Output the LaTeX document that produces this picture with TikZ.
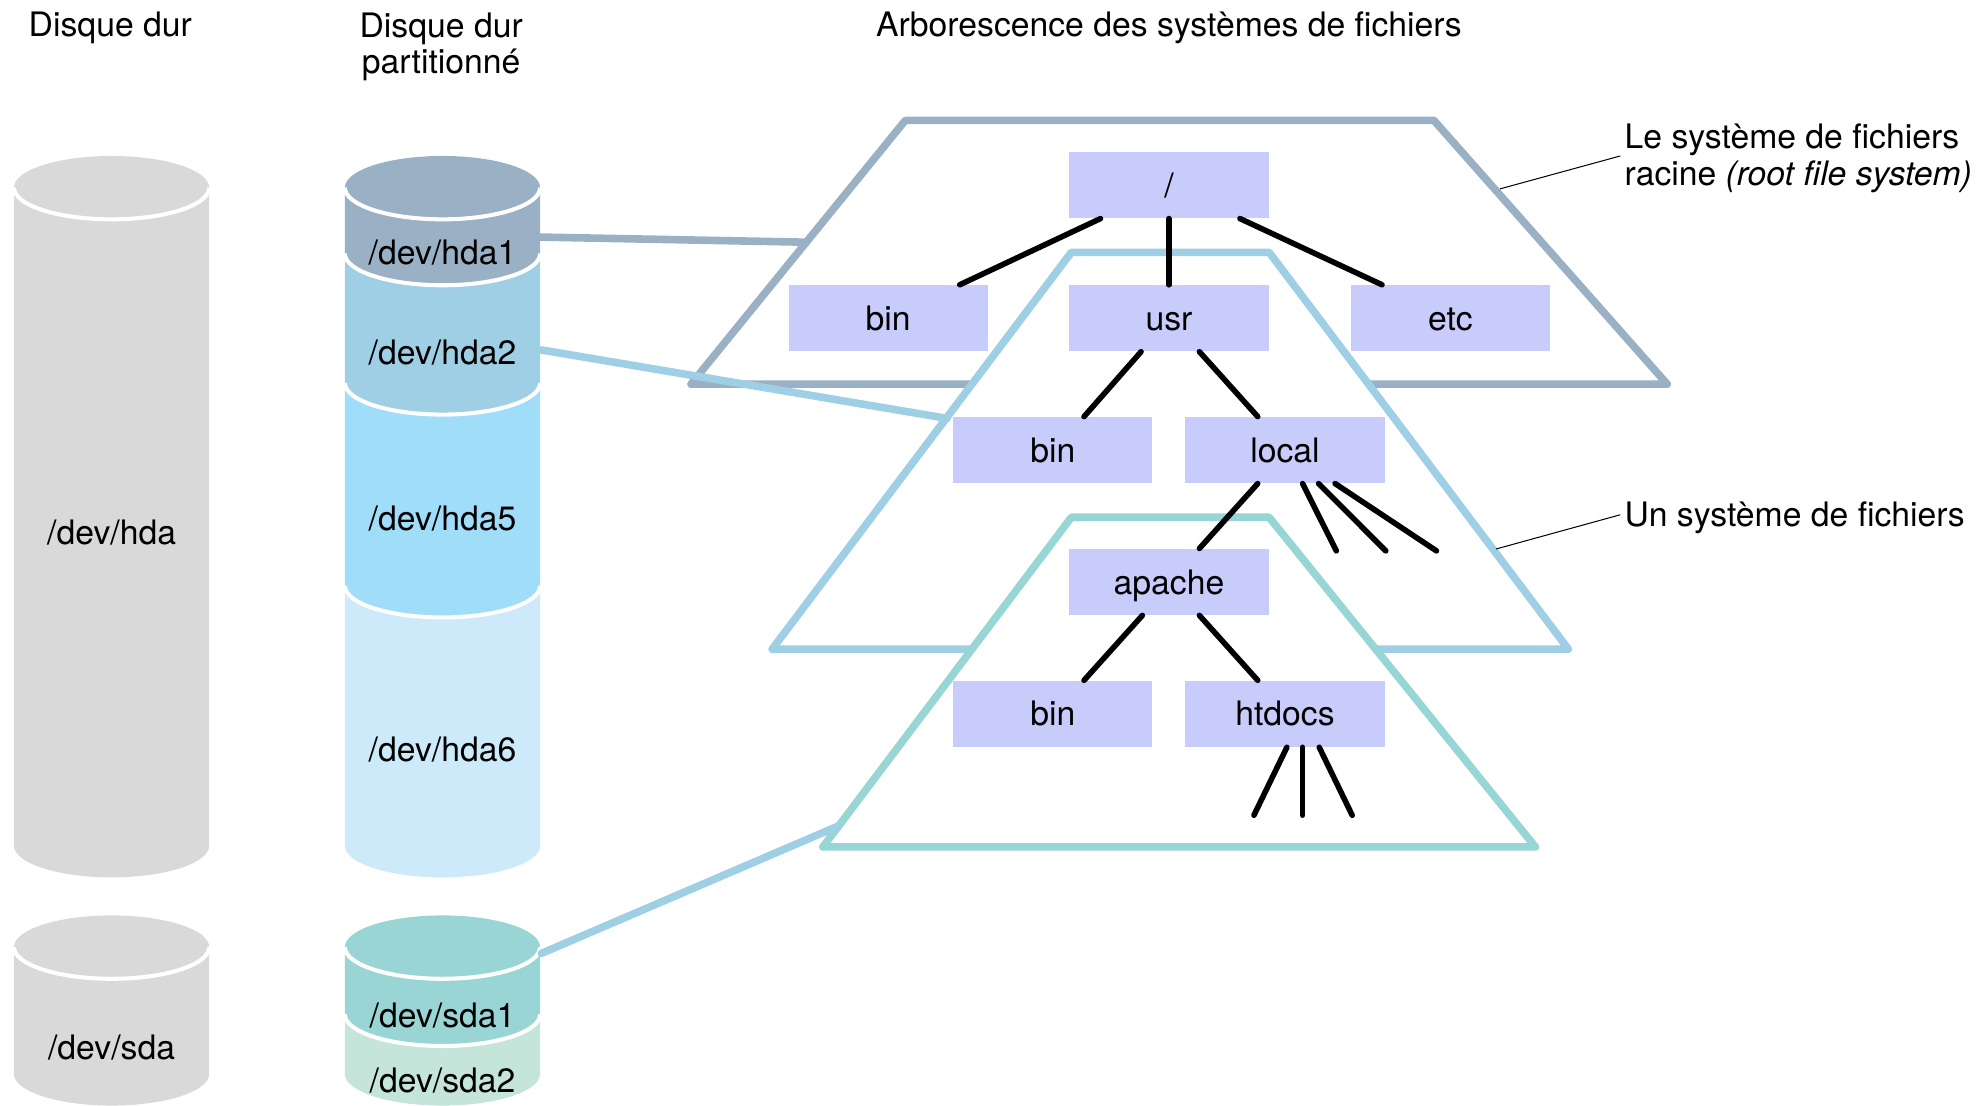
\documentclass[tikz,border=0pt]{standalone}
\usepackage{fontspec}
\setmainfont{TeX Gyre Heros}
\usetikzlibrary{calc}

\definecolor{diskgrey}{HTML}{D9D9D9}
\definecolor{slate}{HTML}{9AB0C5}
\definecolor{parttwo}{HTML}{9ECFE5}
\definecolor{partfive}{HTML}{A0DDF9}
\definecolor{partsix}{HTML}{CDEAFA}
\definecolor{sdaone}{HTML}{9AD5D5}
\definecolor{sdatwo}{HTML}{C5E4DA}
\definecolor{fsteal}{HTML}{98D5D5}
\definecolor{boxblue}{HTML}{C7CCFA}

% one slice of a cylinder: centre x, top y, bottom y, colour, white seam at the bottom (1/0)
\newcommand\cylpart[5]{%
  \fill[#4] (#1-77,#2) -- (#1-77,#3)
    arc[start angle=180,end angle=360,x radius=38.5pt,y radius=12.5pt]
    -- (#1+77,#2) -- cycle;
  \ifnum#5=1
    \draw[white,line width=1.6pt] (#1-77,#3)
      arc[start angle=180,end angle=360,x radius=38.5pt,y radius=12.5pt];
  \fi}
% the lid of a cylinder: centre x, y, colour
\newcommand\cyllid[3]{%
  \fill[#3] (#1,#2) ellipse[x radius=38.5pt,y radius=12.5pt];
  \draw[white,line width=1.6pt] (#1-77,#2)
    arc[start angle=180,end angle=360,x radius=38.5pt,y radius=12.5pt];}

\begin{document}
\begin{tikzpicture}[x=0.5pt,y=-0.5pt,
  lbl/.style={inner sep=0pt,text height=9.6pt,text depth=0pt,
    font=\fontsize{13.3pt}{14.5pt}\selectfont},
  hdr/.style={inner sep=0pt,align=center,font=\fontsize{13.3pt}{14.5pt}\selectfont},
  dirbox/.style={lbl,fill=boxblue,minimum width=78.5pt,minimum height=26pt},
  fsline/.style={line width=3pt,line cap=round,line join=round},
  treeline/.style={black,line width=2.2pt,line cap=round},
  leader/.style={black,line width=0.4pt}]

\useasboundingbox (0,0) rectangle (1568,872);

% ---- whole disks ----
\cylpart{88}{148}{667}{diskgrey}{0}
\cyllid{88}{148}{diskgrey}
\node[lbl] (hda) at (88,420) {/dev/hda};

\cylpart{88}{747}{847}{diskgrey}{0}
\cyllid{88}{747}{diskgrey}
\node[lbl] (sda) at (88,826) {/dev/sda};

% ---- partitioned disks ----
\cylpart{349}{462}{667}{partsix}{0}
\cylpart{349}{302}{462}{partfive}{1}
\cylpart{349}{200}{302}{parttwo}{1}
\cylpart{349}{148}{200}{slate}{1}
\cyllid{349}{148}{slate}
\node[lbl] (hdaone)  at (349,199) {/dev/hda1};
\node[lbl] (hdatwo)  at (349,278) {/dev/hda2};
\node[lbl] (hdafive) at (349,409) {/dev/hda5};
\node[lbl] (hdasix)  at (349,591) {/dev/hda6};

\cylpart{349}{800}{847}{sdatwo}{0}
\cylpart{349}{747}{800}{sdaone}{1}
\cyllid{349}{747}{sdaone}
\node[lbl] (sdaonelbl) at (349,801) {/dev/sda1};
\node[lbl] (sdatwolbl) at (349,852) {/dev/sda2};

% ---- file system layers ----
\draw[fsline,draw=slate,fill=white] (714,95) -- (1131,95) -- (1315,303) -- (545,303) -- cycle;
\draw[fsline,draw=parttwo,fill=white] (845,199) -- (1001,199) -- (1237,512) -- (609,512) -- cycle;
\draw[fsline,draw=fsteal,fill=white] (845,408) -- (1001,408) -- (1211,668) -- (649,668) -- cycle;

% ---- partitions mounted on the layers ----
\coordinate (hdaoneport) at (426,187);
\coordinate (rootport)   at (634,191);
\coordinate (hdatwoport) at (427,276);
\coordinate (usrport)    at (747,330);
\coordinate (sdaoneport) at (427,752);
\coordinate (apacheport) at (660,652);
\draw[fsline,slate]   (hdaoneport) -- (rootport);
\draw[fsline,parttwo] (hdatwoport) -- (usrport);
\draw[fsline,parttwo] (sdaoneport) -- (apacheport);

% ---- directory tree ----
\node[dirbox] (slash)  at (922,146)   {/};
\node[dirbox] (binone) at (700.5,251) {bin};
\node[dirbox] (usr)    at (922,251)   {usr};
\node[dirbox] (etc)    at (1144,251)  {etc};
\node[dirbox] (bintwo) at (830.5,355) {bin};
\node[dirbox] (local)  at (1013.5,355){local};
\node[dirbox] (apache) at (922,459)   {apache};
\node[dirbox] (binthree) at (830.5,563) {bin};
\node[dirbox] (htdocs) at (1013.5,563){htdocs};

\draw[treeline] ([xshift=-27pt]slash.south) -- ([xshift=28.25pt]binone.north);
\draw[treeline] (slash.south) -- (usr.north);
\draw[treeline] ([xshift=28pt]slash.south) -- ([xshift=-27pt]etc.north);
\draw[treeline] ([xshift=-11pt]usr.south) -- ([xshift=12.25pt]bintwo.north);
\draw[treeline] ([xshift=12pt]usr.south) -- ([xshift=-10.75pt]local.north);
\draw[treeline] ([xshift=-10.75pt]local.south) -- ([xshift=12pt]apache.north);
\draw[treeline] ([xshift=-10.5pt]apache.south) -- ([xshift=12.25pt]binthree.north);
\draw[treeline] ([xshift=12pt]apache.south) -- ([xshift=-10.75pt]htdocs.north);

\coordinate (localleafa) at (1054,434.5);
\coordinate (localleafb) at (1093,434.5);
\coordinate (localleafc) at (1133,434.5);
\draw[treeline] ([xshift=6.95pt]local.south)  -- (localleafa);
\draw[treeline] ([xshift=13.25pt]local.south) -- (localleafb);
\draw[treeline] ([xshift=19.75pt]local.south) -- (localleafc);

\coordinate (htdocsleafa) at (989,643);
\coordinate (htdocsleafb) at (1027.4,643);
\coordinate (htdocsleafc) at (1066.5,643);
\draw[treeline] ([xshift=0.75pt]htdocs.south) -- (htdocsleafa);
\draw[treeline] ([xshift=6.95pt]htdocs.south) -- (htdocsleafb);
\draw[treeline] ([xshift=13.5pt]htdocs.south) -- (htdocsleafc);

% ---- annotations ----
\node[hdr,align=left,anchor=north west] (rootnote) at (1281,97.4)
  {Le système de fichiers\\racine \textit{(root file system)}};
\node[lbl,anchor=west] (fsnote) at (1281,406) {Un système de fichiers};
\coordinate (rootedge) at (1183,149);
\coordinate (midedge)  at (1180,433);
\draw[leader] (rootedge) -- (1278,123) coordinate (rootnotetip);
\draw[leader] (midedge) -- (1278,406) coordinate (fsnotetip);

% ---- column headings ----
\node[lbl] (hddtitle) at (87,19) {Disque dur};
\node[hdr,anchor=north] (parttitle) at (348,9.4) {Disque dur\\partitionné};
\node[lbl] (treetitle) at (922,19) {Arborescence des systèmes de fichiers};

\end{tikzpicture}
\end{document}
